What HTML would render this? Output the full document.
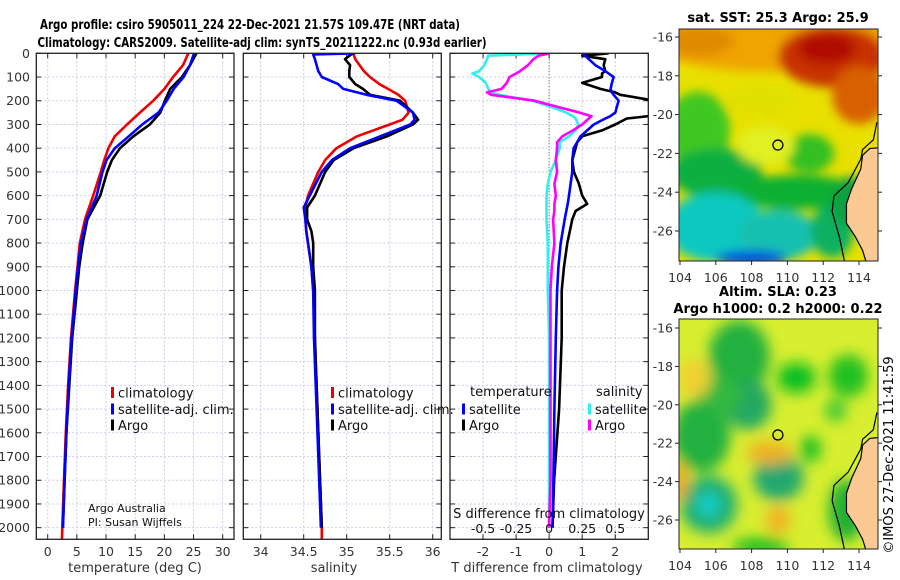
<!DOCTYPE html>
<html><head><meta charset="utf-8"><style>
html,body{margin:0;padding:0;background:#fff;}
svg{display:block;font-family:"DejaVu Sans","Liberation Sans",sans-serif;}
</style></head><body>
<svg id="fig" width="900" height="580" viewBox="0 0 900 580" xmlns="http://www.w3.org/2000/svg">
<defs>
<filter id="blur1" x="-20%" y="-20%" width="140%" height="140%"><feGaussianBlur stdDeviation="5"/></filter>
<filter id="blur2" x="-20%" y="-20%" width="140%" height="140%"><feGaussianBlur stdDeviation="7"/></filter>
<clipPath id="c1"><rect x="36" y="53" width="198" height="486"/></clipPath>
<clipPath id="c2"><rect x="243" y="53" width="198" height="486"/></clipPath>
<clipPath id="c3"><rect x="450" y="53" width="198" height="486"/></clipPath>
<clipPath id="m1"><rect x="679" y="29" width="199" height="232"/></clipPath>
<clipPath id="m2"><rect x="679" y="319" width="199" height="230"/></clipPath>
</defs>
<text x="250" y="29" font-size="13" font-weight="bold" text-anchor="middle" textLength="420" lengthAdjust="spacingAndGlyphs">Argo profile: csiro 5905011_224 22-Dec-2021 21.57S 109.47E (NRT data)</text>
<text x="262" y="47" font-size="13" font-weight="bold" text-anchor="middle" textLength="449" lengthAdjust="spacingAndGlyphs">Climatology: CARS2009. Satellite-adj clim: synTS_20211222.nc (0.93d earlier)</text>
<g id="panels"></g>
<g id="maps"></g>
<text x="778" y="22" font-size="13" font-weight="bold" text-anchor="middle">sat. SST: 25.3 Argo: 25.9</text>
<text x="778" y="296" font-size="13" font-weight="bold" text-anchor="middle">Altim. SLA: 0.23</text>
<text x="778" y="313" font-size="13" font-weight="bold" text-anchor="middle">Argo h1000: 0.2 h2000: 0.22</text>
<text transform="translate(893,455) rotate(-90)" font-size="13" text-anchor="middle">©IMOS 27-Dec-2021 11:41:59</text>
</svg>
<script>
// ---------- data ----------
const tDepth = [0,50,100,150,200,250,300,350,400,450,500,600,700,800,900,1000,1200,1400,1600,1800,2000,2050];
const climT = [24.1,23.2,21.5,20.0,18.1,15.8,13.6,11.5,10.4,9.7,9.1,7.8,6.4,5.5,5.1,4.7,4.0,3.5,3.1,2.8,2.5,2.45];
const satT  = [25.1,24.4,23.3,21.6,20.4,19.0,16.2,13.9,11.5,10.1,9.4,8.4,6.7,5.7,5.2,4.8,4.1,3.6,3.2,2.9,2.6,2.6];
const argoT = [25.5,24.4,23.0,21.0,20.1,19.3,17.5,14.7,12.4,11.0,10.2,9.0,6.8,6.0,5.4,5.0,4.2,3.7,3.2,2.9,2.6,2.6];
const sDepth = [0,5,25,50,75,100,130,150,175,200,250,280,300,350,400,450,500,600,650,700,750,800,900,1000,1200,1600,2000,2050];
const climS = [35.08,35.08,35.1,35.15,35.2,35.27,35.38,35.48,35.6,35.68,35.72,35.65,35.5,35.12,34.88,34.75,34.67,34.55,34.52,34.52,34.53,34.55,34.59,34.61,34.63,34.67,34.71,34.71];
const satS  = [35.1,34.61,34.63,34.65,34.67,34.71,34.9,34.96,35.23,35.58,35.77,35.79,35.74,35.39,35.04,34.83,34.71,34.57,34.50,34.52,34.53,34.55,34.59,34.61,34.62,34.66,34.70,34.70];
const argoS = [35.08,35.05,34.98,35.04,35.03,35.03,35.1,35.19,35.27,35.62,35.77,35.83,35.77,35.47,35.08,34.85,34.75,34.63,34.54,34.54,34.59,34.61,34.61,34.63,34.63,34.67,34.71,34.71];
const dDepth = [0,10,25,50,75,85,100,125,150,165,175,200,225,250,265,275,300,325,350,375,400,450,500,550,600,635,665,700,800,900,1000,1200,1500,1800,2000];
const satTd  = [1.0,1.1,1.2,1.4,1.7,1.8,1.95,1.9,1.86,1.9,1.95,2.1,2.05,2.0,1.85,1.7,1.35,1.15,0.95,0.85,0.74,0.7,0.7,0.65,0.6,0.56,0.52,0.47,0.35,0.28,0.24,0.2,0.16,0.13,0.1];
const argoTd = [1.8,1.0,1.7,1.65,1.7,1.6,1.6,1.0,1.55,2.0,2.15,3.2,3.4,3.5,3.0,2.35,2.0,1.6,1.0,0.85,0.8,0.7,0.75,0.9,1.0,1.15,0.8,0.7,0.55,0.45,0.38,0.38,0.3,0.15,0.1];
const satSd  = [0,-0.46,-0.47,-0.49,-0.53,-0.58,-0.53,-0.48,-0.46,-0.44,-0.38,-0.13,0.01,0.13,0.18,0.2,0.22,0.2,0.15,0.08,0.08,0.05,0.01,-0.01,-0.02,-0.02,-0.02,-0.02,-0.01,-0.01,-0.01,0,0,0,0];
const argoSd = [0,-0.08,-0.12,-0.16,-0.22,-0.25,-0.3,-0.32,-0.36,-0.47,-0.44,-0.11,0.06,0.23,0.32,0.3,0.25,0.18,0.1,0.06,0.06,0.05,0.06,0.04,0.05,0.04,0.04,0.03,0.04,0.02,0.01,0.01,0.01,0.01,0];
const depthTicks = [0,100,200,300,400,500,600,700,800,900,1000,1100,1200,1300,1400,1500,1600,1700,1800,1900,2000];
const tTicks = [0,5,10,15,20,25,30];
const sTicks = [34,34.5,35,35.5,36];
const sTickLabels = ["34","34.5","35","35.5","36"];
const dTTicks = [-2,-1,0,1,2];
const dSTicks = [-0.5,-0.25,0,0.25,0.5];
const dSTickLabels = ["-0.5","-0.25","0","0.25","0.5"];
const lonTicks = [104,106,108,110,112,114];
const latTicks = [-16,-18,-20,-22,-24,-26];
const argoLon = 109.47, argoLat = -21.57;

// ---------- helpers ----------
const NS = "http://www.w3.org/2000/svg";
function mk(tag, attrs, parent){const e=document.createElementNS(NS,tag);for(const k in attrs)e.setAttribute(k,attrs[k]);parent.appendChild(e);return e;}
const TOP=53.3, BOT=539.3, DMAX=2049;
function yD(d){return TOP+(d/DMAX)*(BOT-TOP);}
function lin(d0,d1,p0,p1){return v=>p0+(v-d0)/(d1-d0)*(p1-p0);}
const panels=document.getElementById('panels');

function drawPanel(x0,x1,xs,ticks,labels,clip,name){
  const g=mk('g',{},panels);
  
  
  depthTicks.forEach(d=>{const l=mk('line',{x1:x0,x2:x1,y1:yD(d),y2:yD(d),stroke:'#c9cde6','stroke-width':1,'stroke-dasharray':'2,2'},g);
    
    mk('line',{x1:x0,x2:x0+5,y1:yD(d),y2:yD(d),stroke:'#222'},g);
    mk('line',{x1:x1-5,x2:x1,y1:yD(d),y2:yD(d),stroke:'#222'},g);});
  ticks.forEach((t,i)=>{const l=mk('line',{x1:xs(t),x2:xs(t),y1:TOP,y2:BOT,stroke:'#c9cde6','stroke-width':1,'stroke-dasharray':'2,2'},g);
    
    mk('line',{x1:xs(t),x2:xs(t),y1:BOT-5,y2:BOT,stroke:'#222'},g);
    mk('line',{x1:xs(t),x2:xs(t),y1:TOP,y2:TOP+5,stroke:'#222'},g);
    if(labels){const tx=mk('text',{x:xs(t),y:556,'font-size':12.5,'text-anchor':'middle',fill:'#333'},g);tx.textContent=labels[i];
      }});
  return g;
}
function drawLine(g,xs,vals,deps,color,clip,name,w){
  const pts=vals.map((v,i)=>xs(v).toFixed(1)+','+yD(deps[i]).toFixed(1)).join(' ');
  const p=mk('polyline',{points:pts,fill:'none',stroke:color,'stroke-width':w||2.6,'stroke-linejoin':'round','clip-path':'url(#'+clip+')'},g);
  
  
}
function frame(x0,x1,g){mk('rect',{x:x0,y:TOP,width:x1-x0,height:BOT-TOP,fill:'none',stroke:'#222','stroke-width':1.3},g);}
function legendRow(g,x,y,color,label,name){
  const r=mk('rect',{x:x,y:y-6,width:3,height:11,fill:color},g);
  
  const t=mk('text',{x:x+7,y:y+4.5,'font-size':13,fill:'#111'},g);t.textContent=label;
  
}

// Panel 1 temperature
const xT=lin(0,30,47.7,222.7);
const g1=drawPanel(36.3,234,xT,tTicks,tTicks.map(String),'c1','temperature-panel');
drawLine(g1,xT,climT,tDepth,'#ee0000','c1','climatology-temperature-line');
drawLine(g1,xT,argoT.slice(0,21),tDepth.slice(0,21),'#000','c1','argo-temperature-line');
drawLine(g1,xT,satT.slice(0,21),tDepth.slice(0,21),'#0000ff','c1','satellite-temperature-line');
frame(36.3,234,g1);
depthTicks.forEach(d=>{const t=mk('text',{x:30,y:yD(d)+4.5,'font-size':12.5,'text-anchor':'end',fill:'#333'},g1);t.textContent=d;
  });
{const t=mk('text',{x:135,y:572,'font-size':13,'text-anchor':'middle',fill:'#333'},g1);t.textContent='temperature (deg C)';}
legendRow(g1,111,393,'#ee0000','climatology','legend-climatology');
legendRow(g1,111,409.5,'#0000ff','satellite-adj. clim.','legend-satellite-adj');
legendRow(g1,111,425.5,'#000','Argo','legend-argo');
{const t=mk('text',{x:88,y:512,'font-size':11,fill:'#111'},g1);t.textContent='Argo Australia';
 const t2=mk('text',{x:88,y:526,'font-size':11,fill:'#111'},g1);t2.textContent='PI: Susan Wijffels';}

// Panel 2 salinity
const xS=lin(34,36,260.7,432.7);
const g2=drawPanel(243.3,441.3,xS,sTicks,sTickLabels,'c2','salinity-panel');
drawLine(g2,xS,climS,sDepth,'#ee0000','c2','climatology-salinity-line');
drawLine(g2,xS,argoS.slice(0,27),sDepth.slice(0,27),'#000','c2','argo-salinity-line');
drawLine(g2,xS,satS.slice(0,27),sDepth.slice(0,27),'#0000ff','c2','satellite-salinity-line');
frame(243.3,441.3,g2);
{const t=mk('text',{x:334,y:572,'font-size':13,'text-anchor':'middle',fill:'#333'},g2);t.textContent='salinity';}
legendRow(g2,331,393,'#ee0000','climatology','legend-climatology-2');
legendRow(g2,331,409.5,'#0000ff','satellite-adj. clim.','legend-satellite-adj-2');
legendRow(g2,331,425.5,'#000','Argo','legend-argo-2');

// Panel 3 differences
const xTd=lin(-3,3,450,648.3);
const xSd=lin(-0.75,0.75,450,648.3);
const g3=drawPanel(450,648.3,xTd,dTTicks,dTTicks.map(String),'c3','difference-panel');
{const z=mk('line',{x1:xTd(0),x2:xTd(0),y1:TOP,y2:BOT,stroke:'#556b2f','stroke-width':1,'stroke-dasharray':'1,2'},g3);}
drawLine(g3,xTd,argoTd,dDepth,'#000','c3','argo-temperature-diff-line');
drawLine(g3,xTd,satTd,dDepth,'#0000ff','c3','satellite-temperature-diff-line');
drawLine(g3,xSd,satSd,dDepth,'#33eeee','c3','satellite-salinity-diff-line');
drawLine(g3,xSd,argoSd,dDepth,'#ff00ff','c3','argo-salinity-diff-line');
frame(450,648.3,g3);
dSTicks.forEach((t,i)=>{const tx=mk('text',{x:xSd(t),y:533,'font-size':12.5,'text-anchor':'middle',fill:'#111'},g3);tx.textContent=dSTickLabels[i];
  });
{const t=mk('text',{x:549,y:518,'font-size':13,'text-anchor':'middle',fill:'#111'},g3);t.textContent='S difference from climatology';
 const t2=mk('text',{x:547,y:572,'font-size':13,'text-anchor':'middle',fill:'#333'},g3);t2.textContent='T difference from climatology';}
{const t=mk('text',{x:470,y:396,'font-size':13,fill:'#111'},g3);t.textContent='temperature';
 const t2=mk('text',{x:596,y:396,'font-size':13,fill:'#111'},g3);t2.textContent='salinity';}
legendRow(g3,462,409.5,'#0000ff','satellite','legend-t-satellite');
legendRow(g3,462,425.5,'#000','Argo','legend-t-argo');
legendRow(g3,588,409.5,'#33eeee','satellite','legend-s-satellite');
legendRow(g3,588,425.5,'#ff00ff','Argo','legend-s-argo');

// ---------- maps ----------
const maps=document.getElementById('maps');
function mapFrame(top,bot,lat16,lat26,clip,name,blobs,bg,blurId){
  const g=mk('g',{},maps);
  
  
  const X=lin(104,114,680,859), Y=lin(-16,-26,lat16,lat26);
  const inner=mk('g',{'clip-path':'url(#'+clip+')'},g);
  mk('rect',{x:679,y:top,width:199,height:bot-top,fill:bg},inner);
  const bl=mk('g',{filter:'url(#'+blurId+')'},inner);
  blobs.forEach(b=>mk('ellipse',{cx:X(b[0]),cy:Y(b[1]),rx:b[2]*18,ry:b[3]*19.3,fill:b[4]},bl));
  const land=[[115.2,-21.7],[114.6,-21.75],[114.2,-22.1],[114.1,-22.8],[113.6,-23.8],[113.3,-24.6],[113.3,-25.6],[113.8,-26.3],[114.2,-27],[114.4,-27.6],[115.2,-27.6]];
  const lp=mk('polygon',{points:land.map(p=>X(p[0])+','+Y(p[1])).join(' '),fill:'#fbc994',stroke:'#000','stroke-width':1.2},inner);
  
  const coast=[[115.0,-20.4],[114.8,-21.3],[114.2,-21.8],[114.1,-22.3],[113.4,-23.5],[112.6,-24.2],[112.5,-25.0],[112.9,-26.3],[113.2,-27.6]];
  mk('polyline',{points:coast.map(p=>X(p[0])+','+Y(p[1])).join(' '),fill:'none',stroke:'#000','stroke-width':1.2},inner);
  const c=mk('circle',{cx:X(argoLon),cy:Y(argoLat),r:5,fill:'none',stroke:'#000','stroke-width':1.3},g);
  
  mk('rect',{x:679,y:top,width:199,height:bot-top,fill:'none',stroke:'#222','stroke-width':1},g);
  lonTicks.forEach(l=>{mk('line',{x1:X(l),x2:X(l),y1:bot,y2:bot+4,stroke:'#222'},g);
    const t=mk('text',{x:X(l),y:bot+21,'font-size':12.5,'text-anchor':'middle',fill:'#333'},g);t.textContent=l;
    });
  latTicks.forEach(l=>{mk('line',{x1:675,x2:679,y1:Y(l),y2:Y(l),stroke:'#222'},g);mk('line',{x1:878,x2:882,y1:Y(l),y2:Y(l),stroke:'#222'},g);
    const t=mk('text',{x:673,y:Y(l)+4.5,'font-size':12.5,'text-anchor':'end',fill:'#333'},g);t.textContent=l;
    });
}
const sstBlobs=[
 [109,-16,7,1.8,'#f0a400'],[112.5,-17,3,1.6,'#c83000'],[112.2,-16.6,1.6,0.8,'#b01000'],[114,-19,1.5,1.5,'#d86000'],[105,-16.2,2,0.8,'#e08a00'],
 [105,-20.8,1.8,2,'#40c820'],[106,-23,2.6,1.3,'#10b040'],[111.2,-22,1.4,1,'#30c020'],[110.5,-24,3.5,0.9,'#10b030'],
 [106,-25.8,2.8,1.8,'#10c8c0'],[109.5,-26.2,2.2,1.3,'#18c0b0'],[108,-27.4,2,0.4,'#0050e0'],[112.5,-26,1.2,1.4,'#10b060'],[113.6,-24.5,1.2,1.3,'#10a040'],
 [108.8,-21.6,1.6,1,'#e0f020'],[108.5,-19.3,2,0.8,'#e0e000']];
mapFrame(29,261,37,231,'m1','sst-map',sstBlobs,'#e8e000','blur1');
const slaBlobs=[
 [107.3,-17.5,1.7,1.9,'#20b040'],[107.8,-20,1.3,1.3,'#20a860'],[105.2,-21.6,1.6,1.9,'#20b040'],[106.3,-19.5,1.2,1,'#30b840'],[110.5,-18.6,1.1,0.8,'#10c020'],[113.4,-18.5,1.1,1.1,'#20c020'],
 [112.7,-20.3,0.6,0.6,'#40c830'],[111.3,-22.3,0.6,0.7,'#20c020'],[109.5,-23.8,1.4,1.2,'#20a870'],[105.6,-25.2,1.6,1.5,'#20b070'],[105.6,-25.2,0.6,0.6,'#10d0d0'],
 [108.5,-27.4,1.6,0.5,'#20c020'],[113.3,-25.5,1.0,1.6,'#20b030'],[109,-22.5,1.3,0.6,'#f0b020'],[109.5,-26,0.7,0.7,'#f0b020'],[104,-24,0.4,1,'#f0a020'],[104.8,-18.6,0.9,1,'#f0d030']];
mapFrame(319,549,328,520,'m2','sla-map',slaBlobs,'#d8ee30','blur2');
</script>
</body></html>
